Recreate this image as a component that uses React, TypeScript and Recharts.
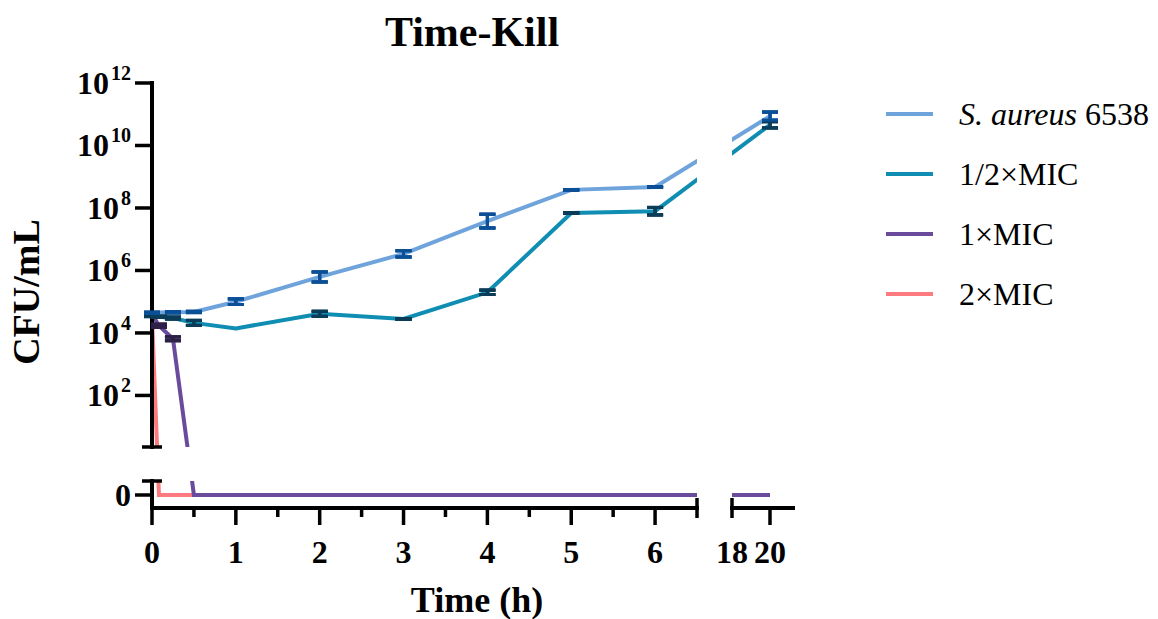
import { LineChart, Line, XAxis, YAxis, ErrorBar, Legend } from 'recharts';

const W = 1158;
const H = 619;
const SERIF = "'Liberation Serif', 'Times New Roman', serif";

// sampling times (h)
const times = [0, 0.083, 0.25, 0.5, 1, 2, 3, 4, 5, 6, 20];

// CFU/mL per group, 0 = nothing recovered (drawn on the "0" band)
const aureusCfu = [4.4e4, 4.5e4, 4.6e4, 4.7e4, 1.0e5, 6.2e5, 3.4e6, 3.8e7, 3.8e8, 4.7e8, 8.7e10];
const halfMicCfu = [3.5e4, 3.3e4, 3.0e4, 2.1e4, 1.4e4, 4.1e4, 2.8e4, 2.0e5, 6.9e7, 7.9e7, 4.6e10];
const oneMicCfu = [4.0e4, 1.7e4, 6.5e3, 0, 0, 0, 0, 0, 0, 0, 0];
const twoMicCfu = [3.2e4, 0, 0, 0, 0, 0, 0, 0, 0, 0, 0];

// error bars, +/- log10 units (null = no bar)
const aureusErr = [0.02, null, 0.02, 0.02, 0.09, 0.16, 0.1, 0.22, 0.01, 0.01, 0.13];
const halfMicErr = [0.02, 0.02, 0.03, 0.08, null, 0.08, 0.01, 0.07, 0.01, 0.12, 0.1];
const oneMicErr = [null, 0.05, 0.06, null, null, null, null, null, null, null, null];

const seriesKeys = ['aureus', 'halfMic', 'oneMic', 'twoMic'];
const seriesNames = ['S. aureus 6538', '1/2×MIC', '1×MIC', '2×MIC'];
const lineColors = ['#6ea3db', '#0f8db2', '#6a4b9b', '#fd7a7e'];
const barColors = ['#0b4f97', '#0b3c58', '#2e2149', ''];
const drawOrder = [3, 2, 1, 0];

// axis ticks
const majorHours = [0, 1, 2, 3, 4, 5, 6];
const minorHours = [0.5, 1.5, 2.5, 3.5, 4.5, 5.5];
const lateHours = [18, 20];
const decades = [2, 4, 6, 8, 10, 12];

// broken-axis layout (page pixels)
const LEFT = 152, GAP_L = 697, GAP_R = 732, RIGHT = 793;
const TOP = 83, GAP_T = 447, GAP_B = 481, BOTTOM = 508;

const pxPerHour = (GAP_L - LEFT) / 6.5;
const xDomLeft: [number, number] = [0, 6.5];
const xDomRight: [number, number] = [(GAP_R - LEFT) / pxPerHour, (RIGHT - LEFT) / pxPerHour];
const lateScale = 19 / pxPerHour; // 18 -> 20 h is 38 px
const toX = (t: number) => (t <= 6.5 ? t : xDomRight[0] + (t - 18) * lateScale);
const fromX = (d: number) => (d <= 6.5 ? d : 18 + (d - xDomRight[0]) / lateScale);

const pxPerDecade = (GAP_T - TOP) / (12 - 0.35);
const yDomUpper: [number, number] = [0.35, 12];
const yDomLower: [number, number] = [12 - (BOTTOM - TOP) / pxPerDecade, 12 - (GAP_B - TOP) / pxPerDecade];
const ZERO_Y = 12 - (495 - TOP) / pxPerDecade;

const toLog = (cfu: number) => (cfu > 0 ? Math.log10(cfu) : ZERO_Y);

const rows = times.map((t, i) => ({
  x: toX(t),
  aureus: toLog(aureusCfu[i]),
  aureusErr: aureusErr[i],
  halfMic: toLog(halfMicCfu[i]),
  halfMicErr: halfMicErr[i],
  oneMic: toLog(oneMicCfu[i]),
  oneMicErr: oneMicErr[i],
  twoMic: toLog(twoMicCfu[i]),
}));

const AXIS_LINE = { stroke: '#000', strokeWidth: 4, strokeLinecap: 'square' as const };

function renderXTick(props: any) {
  const { x, y, payload } = props;
  const h = Math.round(fromX(payload.value) * 100) / 100;
  const cap = h === 6.5 || h === 18;
  const major = majorHours.includes(h) || lateHours.includes(h);
  const y1 = cap ? y - 10 : y;
  const y2 = cap ? y + 10 : y + (major ? 17 : 9);
  return (
    <g>
      <line x1={x} x2={x} y1={y1} y2={y2} stroke="#000" strokeWidth={3.5} />
      {major && (
        <text x={x} y={y + 55} textAnchor="middle" fontFamily={SERIF} fontSize={32} fontWeight="bold" fill="#000">
          {h}
        </text>
      )}
    </g>
  );
}

function renderYTick(props: any) {
  const { x, y, payload } = props;
  const v = payload.value;
  if (v === yDomUpper[0] || v === yDomLower[1]) {
    return <line x1={x - 10} x2={x + 10} y1={y} y2={y} stroke="#000" strokeWidth={3.5} />;
  }
  return (
    <g>
      <line x1={x - 17} x2={x} y1={y} y2={y} stroke="#000" strokeWidth={3.5} />
      <text x={x - 21} y={y + 11} textAnchor="end" fontFamily={SERIF} fontSize={32} fontWeight="bold" fill="#000">
        {v === ZERO_Y ? (
          '0'
        ) : (
          <>
            10
            <tspan dx={2} dy={-14} fontSize={20}>
              {v}
            </tspan>
          </>
        )}
      </text>
    </g>
  );
}

function LegendList() {
  return (
    <div style={{ fontFamily: SERIF, fontSize: 32, color: '#000' }}>
      {[0, 1, 2, 3].map((i) => {
        const name = seriesNames[i];
        const italic = name.startsWith('S. aureus');
        return (
          <div key={i} style={{ display: 'flex', alignItems: 'center', height: 60 }}>
            <svg width={47} height={6}>
              <line x1={0} x2={47} y1={3} y2={3} stroke={lineColors[i]} strokeWidth={4} />
            </svg>
            <span style={{ marginLeft: 26, whiteSpace: 'nowrap' }}>
              {italic ? (
                <>
                  <i>S. aureus</i>
                  {name.slice(9)}
                </>
              ) : (
                name
              )}
            </span>
          </div>
        );
      })}
    </div>
  );
}

interface PanelProps {
  xDomain: [number, number];
  yDomain: [number, number];
  box: { left: number; right: number; top: number; bottom: number };
  xTicks?: number[];
  yTicks?: number[];
  legend?: boolean;
}

function Panel({ xDomain, yDomain, box, xTicks, yTicks, legend }: PanelProps) {
  return (
    <div style={{ position: 'absolute', left: 0, top: 0 }}>
      <LineChart
        width={W}
        height={H}
        data={rows}
        margin={{
          top: box.top,
          left: yTicks ? 0 : box.left,
          right: W - box.right,
          bottom: xTicks ? 0 : H - box.bottom,
        }}
      >
        <XAxis
          type="number"
          dataKey="x"
          domain={xDomain}
          allowDataOverflow
          hide={!xTicks}
          ticks={xTicks}
          interval={0}
          height={H - box.bottom}
          axisLine={AXIS_LINE}
          tickLine={false}
          tickSize={0}
          tickMargin={0}
          tick={renderXTick}
        />
        <YAxis
          type="number"
          domain={yDomain}
          allowDataOverflow
          hide={!yTicks}
          ticks={yTicks}
          interval={0}
          width={box.left}
          axisLine={AXIS_LINE}
          tickLine={false}
          tickSize={0}
          tickMargin={0}
          tick={renderYTick}
        />
        {drawOrder.map((i) => (
          <Line
            key={seriesKeys[i]}
            type="linear"
            dataKey={seriesKeys[i]}
            name={seriesNames[i]}
            stroke={lineColors[i]}
            strokeWidth={4}
            dot={false}
            activeDot={false}
            isAnimationActive={false}
          >
            {barColors[i] && (
              <ErrorBar
                dataKey={`${seriesKeys[i]}Err`}
                direction="y"
                width={8}
                strokeWidth={3}
                stroke={barColors[i]}
                isAnimationActive={false}
              />
            )}
          </Line>
        ))}
        {legend && (
          <Legend
            layout="vertical"
            align="center"
            verticalAlign="middle"
            wrapperStyle={{ left: 886, top: 84, width: 272 }}
            content={() => <LegendList />}
          />
        )}
      </LineChart>
    </div>
  );
}

export default function App() {
  return (
    <div style={{ position: 'absolute', left: 0, top: 0, width: W, height: H, background: '#fff' }}>
      <Panel xDomain={xDomLeft} yDomain={yDomUpper} box={{ left: LEFT, right: GAP_L, top: TOP, bottom: GAP_T }} yTicks={[...decades, yDomUpper[0]]} legend />
      <Panel xDomain={xDomRight} yDomain={yDomUpper} box={{ left: GAP_R, right: RIGHT, top: TOP, bottom: GAP_T }} />
      <Panel
        xDomain={xDomLeft}
        yDomain={yDomLower}
        box={{ left: LEFT, right: GAP_L, top: GAP_B, bottom: BOTTOM }}
        xTicks={[...majorHours, ...minorHours, 6.5]}
        yTicks={[ZERO_Y, yDomLower[1]]}
      />
      <Panel xDomain={xDomRight} yDomain={yDomLower} box={{ left: GAP_R, right: RIGHT, top: GAP_B, bottom: BOTTOM }} xTicks={lateHours.map(toX)} />
      <svg width={W} height={H} style={{ position: 'absolute', left: 0, top: 0, pointerEvents: 'none' }}>
        <text x={472} y={46} textAnchor="middle" fontFamily={SERIF} fontSize={42} fontWeight="bold">
          Time-Kill
        </text>
        <text x={477} y={612} textAnchor="middle" fontFamily={SERIF} fontSize={36} fontWeight="bold">
          Time (h)
        </text>
        <text transform="translate(39,292) rotate(-90)" textAnchor="middle" fontFamily={SERIF} fontSize={38} fontWeight="bold">
          CFU/mL
        </text>
      </svg>
    </div>
  );
}
